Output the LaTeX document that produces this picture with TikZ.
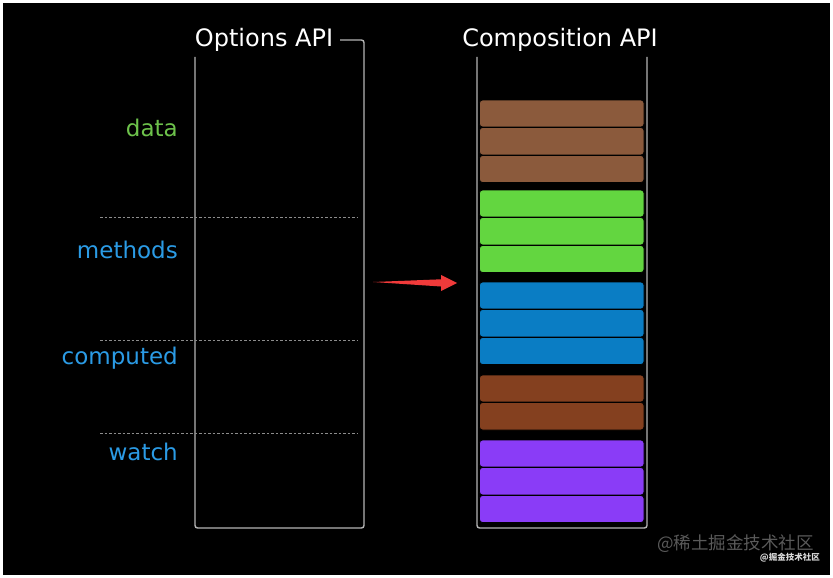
\documentclass[tikz,border=0pt]{standalone}
\usepackage{fontspec}
\setmainfont{DejaVu Sans}
\newfontfamily\cjk{Noto Sans CJK SC}
\definecolor{framegrey}{HTML}{B4B4B4}
\definecolor{blkbrown}{HTML}{8B5A3C}
\definecolor{blkgreen}{HTML}{63D640}
\definecolor{blkblue}{HTML}{0A7DC4}
\definecolor{blkrust}{HTML}{84401F}
\definecolor{blkpurple}{HTML}{8A3CF7}
\definecolor{lblgreen}{HTML}{6DC24B}
\definecolor{lblblue}{HTML}{2B9BE5}
\definecolor{arrowred}{HTML}{F03A3A}
\definecolor{wmgrey}{HTML}{5A5A5A}
\begin{document}
\begin{tikzpicture}[x=1pt,y=-1pt,
  frameline/.style={draw=framegrey,line width=1.4pt,rounded corners=2.5pt},
  titletext/.style={text=white,font=\fontsize{24}{28}\selectfont,inner sep=0pt,anchor=base},
  lbltext/.style={font=\fontsize{23}{27}\selectfont,inner sep=0pt,anchor=base east},
  sepline/.style={draw=white!55!black,dashed,dash pattern=on 2.5pt off 2pt,line width=0.6pt},
  block/.style={draw=black,line width=0.8pt,rounded corners=3pt},
]
\useasboundingbox (0,0) rectangle (833,578);
\fill[white] (0,0) rectangle (833,578);
\fill[black] (3,3) rectangle (830,575);

% titles
\node[titletext] (optt) at (264,47) {Options API};
\node[titletext] (compt) at (560,47) {Composition API};

% Options frame
\draw[frameline] (195,57) -- (195,528) -- (364,528) -- (364,40) -- (340,40);

% Composition frame
\draw[frameline] (477,57) -- (477,528) -- (647,528) -- (647,57);

% separators
\draw[sepline] (100,217) -- (358,217);
\draw[sepline] (100,340) -- (358,340);
\draw[sepline] (100,433) -- (358,433);

% labels
\node[lbltext,text=lblgreen] (ldata) at (178,136) {data};
\node[lbltext,text=lblblue] (lmeth) at (178,258) {methods};
\node[lbltext,text=lblblue] (lcomp) at (178,364) {computed};
\node[lbltext,text=lblblue] (lwatch) at (178,460) {watch};

% blocks
\foreach \ya/\yb/\c in {100/127/blkbrown,127.5/155/blkbrown,155.5/182.5/blkbrown,
  190/217/blkgreen,217.5/245/blkgreen,245.5/272.5/blkgreen,
  282/309/blkblue,309.5/337/blkblue,337.5/364.5/blkblue,
  375/402/blkrust,402.5/430/blkrust,
  440/467/blkpurple,467.5/495/blkpurple,495.5/522.5/blkpurple}
  \filldraw[block,fill=\c] (479.5,\ya) rectangle (644,\yb);

% arrow
\coordinate (atail) at (373,282);
\coordinate (atip) at (457,283);
\fill[arrowred] (atail) -- (441,279.3) -- (441,275) -- (atip) -- (441,291) -- (441,286.5) -- cycle;

% watermark
\node[text=wmgrey,font=\cjk\fontsize{17.5}{20}\selectfont,inner sep=0pt,anchor=east] (wm1) at (814,543.5) {@稀土掘金技术社区};
\node[text=white!85!black,font=\cjk\bfseries\fontsize{8.5}{10}\selectfont,inner sep=0pt,anchor=east] (wm2) at (820,558) {@掘金技术社区};
\end{tikzpicture}
\end{document}
